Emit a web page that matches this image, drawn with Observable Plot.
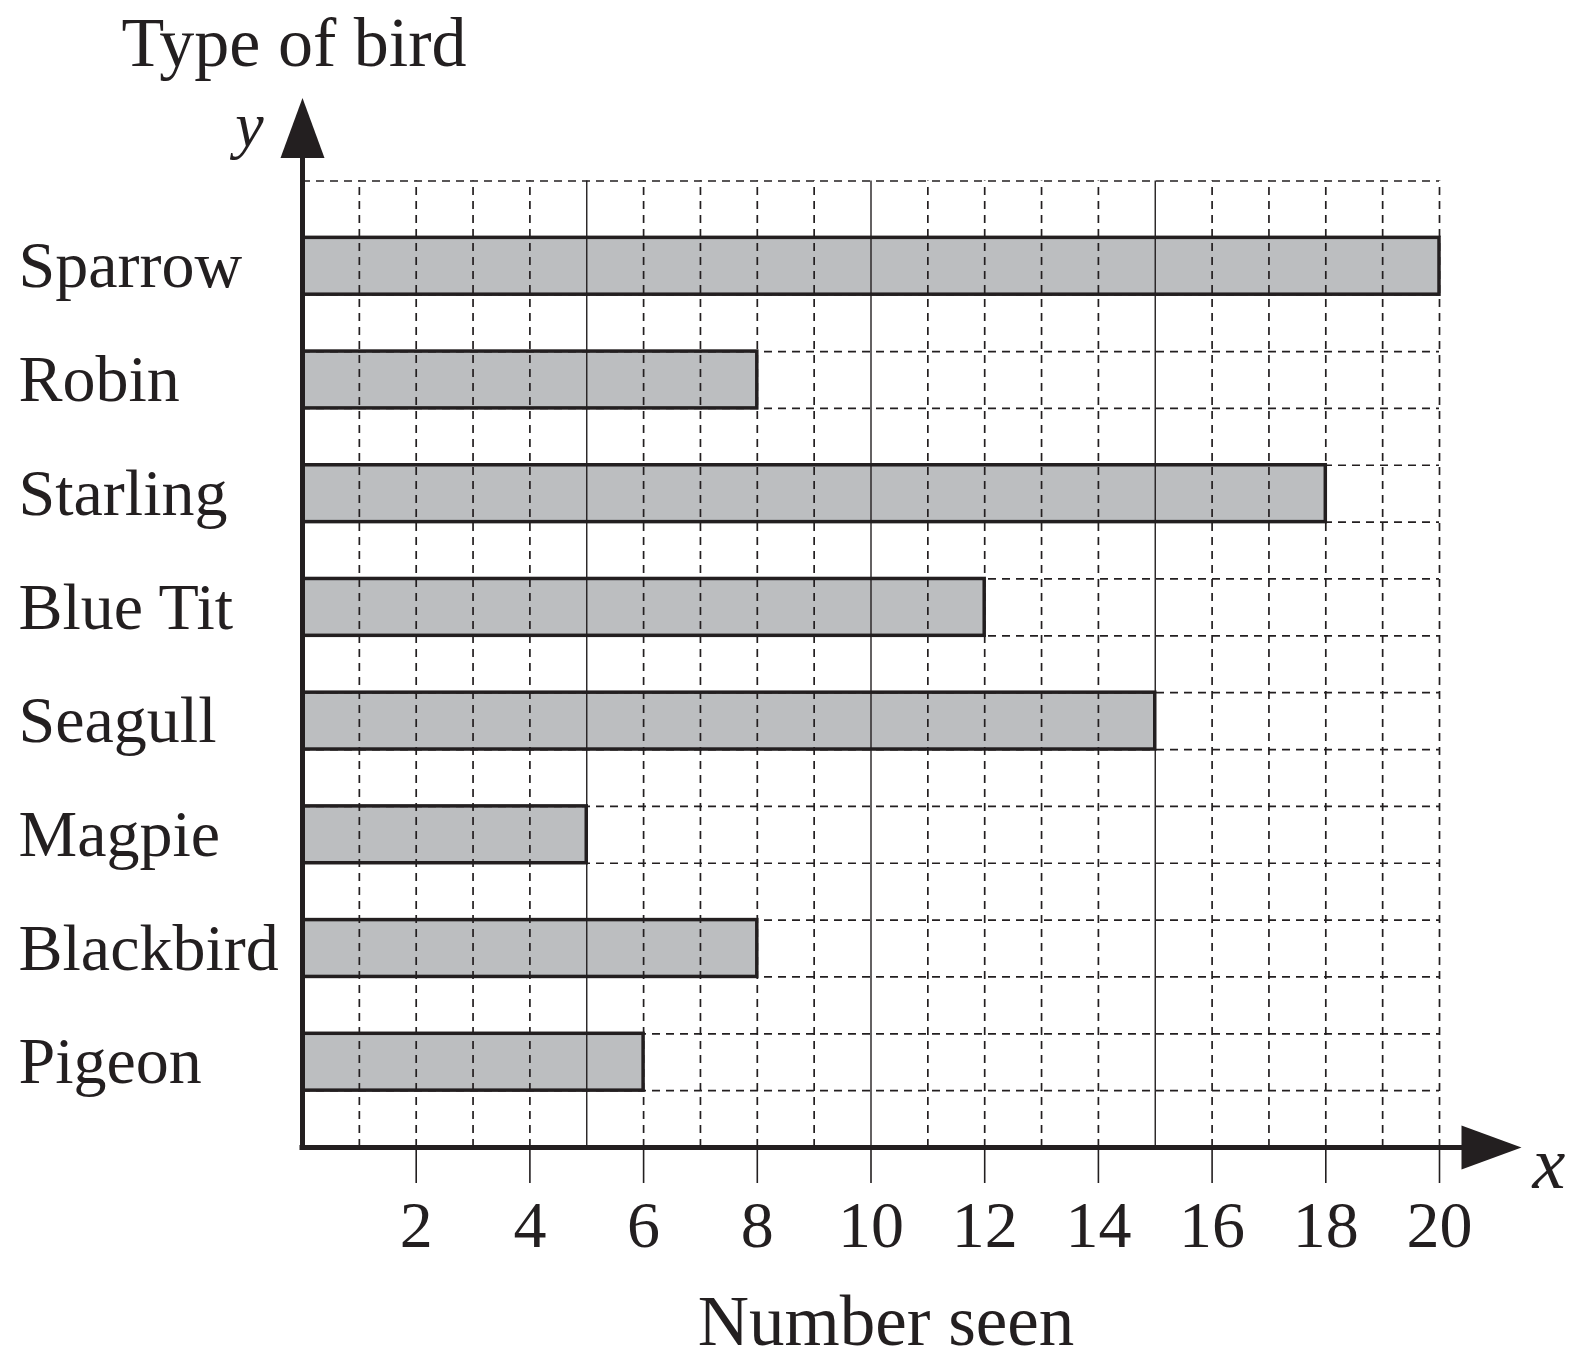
<!DOCTYPE html>
<html>
<head>
<meta charset="utf-8">
<script src="https://cdn.jsdelivr.net/npm/d3@7"></script>
<script src="https://cdn.jsdelivr.net/npm/@observablehq/plot@0.6"></script>
<style>
  html, body { margin: 0; padding: 0; background: #fff; }
  svg { display: block; }
</style>
</head>
<body>
<div id="chart"></div>
<script>
const birds = ["Sparrow", "Robin", "Starling", "Blue Tit", "Seagull", "Magpie", "Blackbird", "Pigeon"];
const counts = [20, 8, 18, 12, 15, 5, 8, 6];
const xTicks = [2, 4, 6, 8, 10, 12, 14, 16, 18, 20];
const yTitle = "Type of bird";
const xTitle = "Number seen";

const ink = "#231f20";
const n = birds.length;
const rows = birds.map((bird, i) => {
  const y1 = 2 * (n - 1 - i) + 1;
  return { bird, count: counts[i], y1, y2: y1 + 1, ym: y1 + 0.5 };
});
const xMax = 20;
const yMax = 2 * n + 1;
const xGridDash = d3.range(1, xMax + 1).filter(v => v % 5 !== 0 || v === xMax);
const xGridSolid = d3.range(5, xMax, 5);
const yGrid = d3.range(1, yMax + 1);

const arrowHead = {
  draw(ctx, size) {
    const r = Math.sqrt(size / Math.PI);
    const w = r * 22 / 30;
    ctx.moveTo(0, -r);
    ctx.lineTo(w, r);
    ctx.lineTo(-w, r);
    ctx.closePath();
  }
};

const chart = Plot.plot({
  width: 1574,
  height: 1360,
  marginLeft: 302,
  marginRight: 135,
  marginTop: 180.5,
  marginBottom: 213,
  x: { domain: [0, xMax] },
  y: { domain: [0, yMax], axis: null },
  style: { fontFamily: "'Liberation Serif', 'Times New Roman', serif", color: ink, background: "#fff" },
  marks: [
    Plot.rect(rows, { x1: 0, x2: "count", y1: "y1", y2: "y2", fill: "#bcbec0" }),
    Plot.ruleX(xGridDash, { y1: 0, y2: yMax, stroke: ink, strokeWidth: 1.7, strokeDasharray: "8,6" }),
    Plot.ruleY(yGrid, { x1: 0, x2: xMax, stroke: ink, strokeWidth: 1.7, strokeDasharray: "8,6" }),
    Plot.ruleX(xGridSolid, { y1: 0, y2: yMax, stroke: ink, strokeWidth: 1.4 }),
    Plot.rect(rows, { x1: 0, x2: "count", y1: "y1", y2: "y2", fill: "none", stroke: ink, strokeWidth: 3.5 }),
    Plot.ruleY([0], { x1: 0, x2: xMax, stroke: ink, strokeWidth: 5, insetLeft: -2.5, insetRight: -24 }),
    Plot.ruleX([0], { y1: yMax, y2: 0, stroke: ink, strokeWidth: 5, insetBottom: -2.5, insetTop: -26 }),
    Plot.dot([0], { x: 0, y: yMax, dy: -53, r: 30, symbol: arrowHead, fill: ink, stroke: "none" }),
    Plot.dot([0], { x: xMax, y: 0, dx: 52, r: 30, rotate: 90, symbol: arrowHead, fill: ink, stroke: "none" }),
    Plot.axisX({ ticks: xTicks, tickSize: 36, tickPadding: 17, fontSize: 66, label: null, strokeWidth: 1.6 }),
    Plot.text(rows, { y: "ym", text: "bird", frameAnchor: "left", dx: -284, textAnchor: "start", fontSize: 66, fill: ink }),
    Plot.text([yTitle], { frameAnchor: "top-left", dx: -8.5, dy: -115.5, textAnchor: "middle", lineAnchor: "bottom", fontSize: 70, fill: ink }),
    Plot.text([xTitle], { frameAnchor: "bottom", dx: 15, dy: 197, lineAnchor: "bottom", fontSize: 71, fill: ink }),
    Plot.text(["y"], { frameAnchor: "top-left", dx: -53, dy: -35.5, textAnchor: "middle", lineAnchor: "bottom", fontSize: 64, fontStyle: "italic", fill: ink }),
    Plot.text(["x"], { frameAnchor: "bottom-right", dx: 93, dy: 40, textAnchor: "start", lineAnchor: "bottom", fontSize: 74, fontStyle: "italic", fill: ink })
  ]
});
document.getElementById("chart").appendChild(chart);
</script>
</body>
</html>
